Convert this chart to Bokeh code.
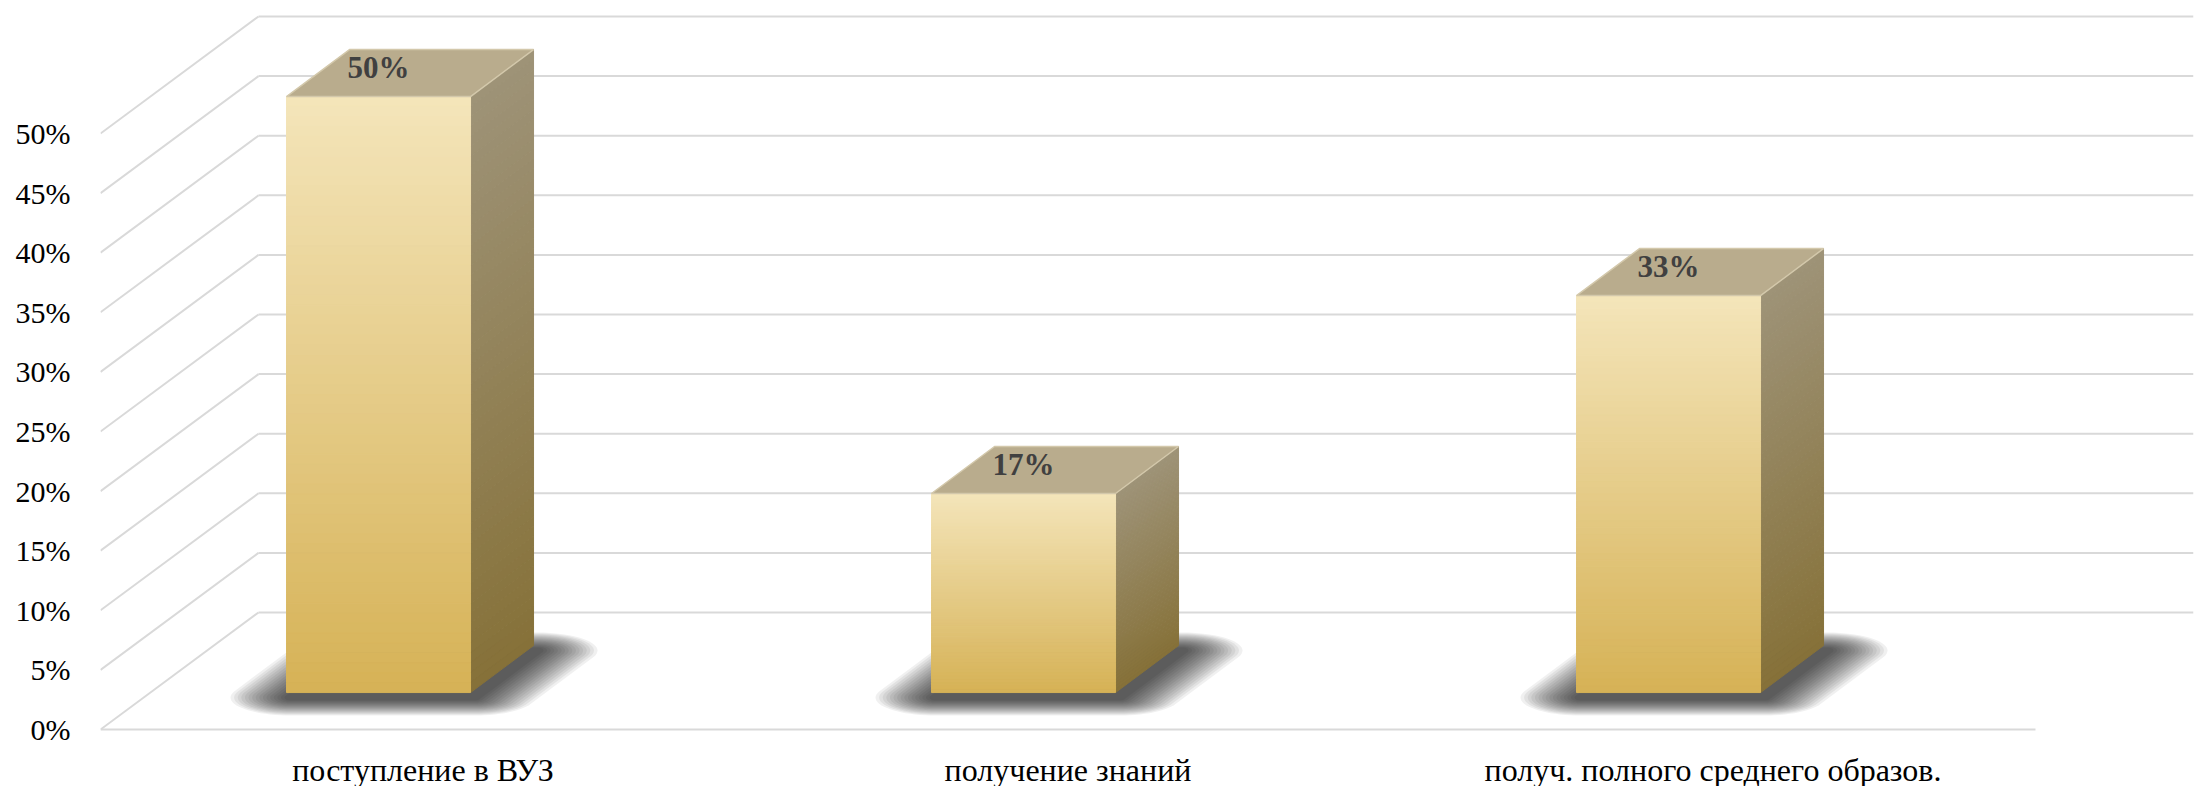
import numpy as np
from bokeh.plotting import figure
from bokeh.models import Range1d, FixedTicker, PrintfTickFormatter
from bokeh.core.properties import value
from bokeh.embed import file_html
from bokeh.resources import INLINE

# ---------------- data ----------------
categories = ["поступление в ВУЗ", "получение знаний", "получ. полного среднего образов."]
values = [50.0, 16.7, 33.3]
y_ticks = [0, 5, 10, 15, 20, 25, 30, 35, 40, 45, 50]

# ---------------- geometry / style ----------------
W, H = 2206, 786
LEFT, RIGHT = 100, 13
PX_X = 645.0          # pixels per category unit
PX_Y = 11.92          # pixels per percent
FLOOR_Y_PX = 729      # floor front line, px from figure top
DEPTH_X = 158 / PX_X  # depth of the 3D box
DEPTH_Y = 117 / PX_Y
BAR_OFF = 0.2884      # front-left of bar within its category
BAR_W = 0.2853
BAR_BASE = 3.10
BAR_DX = 63 / PX_X
BAR_DY = 47 / PX_Y
GRID_COLOR = "#d9d9d9"
FONT = "Liberation Serif"

FRONT_TOP, FRONT_BOT = (244, 229, 186), (214, 178, 86)
SIDE_TOP, SIDE_BOT = (158, 147, 120), (134, 113, 56)
TOP_COLOR = "#b9ac8d"


def mix(c1, c2, t):
    return "#%02x%02x%02x" % tuple(int(round(a + (b - a) * t)) for a, b in zip(c1, c2))


n_cat = len(categories)
x_max = (W - LEFT - RIGHT) / PX_X
y_max = FLOOR_Y_PX / PX_Y
y_min = -(H - FLOOR_Y_PX) / PX_Y

p = figure(width=W, height=H, output_backend="svg", toolbar_location=None,
           title=None, x_axis_location=None, y_axis_location="left",
           x_range=Range1d(0, x_max), y_range=Range1d(y_min, y_max),
           min_border_left=LEFT, min_border_right=RIGHT,
           min_border_top=0, min_border_bottom=0)
p.outline_line_color = None
p.grid.visible = False
p.background_fill_color = "white"
p.border_fill_color = "white"

ax = p.yaxis[0]
ax.ticker = FixedTicker(ticks=y_ticks)
ax.formatter = PrintfTickFormatter(format="%d%%")
ax.axis_line_color = None
ax.major_tick_line_color = None
ax.minor_tick_line_color = None
ax.major_tick_out = 0
ax.major_tick_in = 0
ax.major_label_standoff = 30
ax.major_label_text_font = FONT
ax.major_label_text_font_size = "30px"
ax.major_label_text_color = "black"

# ---------------- 3D walls ----------------
t = np.array(y_ticks, dtype=float)
p.segment(x0=np.full_like(t, DEPTH_X), y0=t + DEPTH_Y,
          x1=np.full_like(t, n_cat + DEPTH_X), y1=t + DEPTH_Y,
          line_color=GRID_COLOR, line_width=2)
p.segment(x0=np.zeros_like(t), y0=t, x1=np.full_like(t, DEPTH_X), y1=t + DEPTH_Y,
          line_color=GRID_COLOR, line_width=2)
p.segment(x0=[0], y0=[0], x1=[n_cat], y1=[0], line_color=GRID_COLOR, line_width=2)

# ---------------- shadows ----------------
def minkowski(verts_px, a, b, n=72):
    out_x, out_y = [], []
    for phi in np.linspace(0, 2 * np.pi, n, endpoint=False):
        ex, ey = a * np.cos(phi), b * np.sin(phi)
        dx, dy = b * np.cos(phi), a * np.sin(phi)
        best = max(verts_px, key=lambda v: v[0] * dx + v[1] * dy)
        out_x.append(best[0] + ex)
        out_y.append(best[1] + ey)
    return out_x, out_y

sh_xs, sh_ys = [], []
for i, v in enumerate(values):
    L = i + BAR_OFF
    R = L + BAR_W
    foot = [(L * PX_X, BAR_BASE * PX_Y), (R * PX_X, BAR_BASE * PX_Y),
            ((R + BAR_DX) * PX_X, (BAR_BASE + BAR_DY) * PX_Y),
            ((L + BAR_DX) * PX_X, (BAR_BASE + BAR_DY) * PX_Y)]
    for k in range(16):
        a = 60 - 3.6 * k
        b = 18 - 1.0 * k
        xs, ys = minkowski(foot, a, b)
        sh_xs.append([x / PX_X + 4 / PX_X for x in xs])
        sh_ys.append([y / PX_Y - 5 / PX_Y for y in ys])
p.patches(sh_xs, sh_ys, fill_color="black", fill_alpha=0.06, line_color=None)

# ---------------- bars ----------------
N = 60
fl, fr, fb, ft, fc = [], [], [], [], []
side_xs, side_ys, side_c = [], [], []
top_xs, top_ys = [], []
for i, v in enumerate(values):
    L = i + BAR_OFF
    R = L + BAR_W
    y0, y1 = BAR_BASE, BAR_BASE + v
    edges = np.linspace(y1, y0, N + 1)
    for j in range(N):
        tt = (j + 0.5) / N
        fl.append(L); fr.append(R)
        ft.append(edges[j]); fb.append(edges[j + 1])
        fc.append(mix(FRONT_TOP, FRONT_BOT, tt))
        ya, yb = edges[j], edges[j + 1]
        side_xs.append([R, R + BAR_DX, R + BAR_DX, R])
        side_ys.append([ya, ya + BAR_DY, yb + BAR_DY, yb])
        side_c.append(mix(SIDE_TOP, SIDE_BOT, tt))
    top_xs.append([L, R, R + BAR_DX, L + BAR_DX])
    top_ys.append([y1, y1, y1 + BAR_DY, y1 + BAR_DY])

p.patches(side_xs, side_ys, fill_color=side_c, line_color=side_c, line_width=1)
p.quad(left=fl, right=fr, top=ft, bottom=fb, fill_color=fc, line_color=fc, line_width=1)
p.patches(top_xs, top_ys, fill_color=TOP_COLOR, line_color="#d3c8ab", line_width=1.5)

# value labels on top faces
lab_x = [i + BAR_OFF + BAR_W / 2 for i in range(n_cat)]
lab_y = [BAR_BASE + v + BAR_DY / 2 + 0.45 for v in values]
p.text(x=lab_x, y=lab_y, text=[f"{v:.0f}%" for v in values],
       text_align="center", text_baseline="middle",
       text_font=value(FONT), text_font_style="bold", text_font_size="31px",
       text_color="#404040")

# category labels
p.text(x=[i + 0.5 for i in range(n_cat)], y=[0] * n_cat, text=categories,
       y_offset=40, text_align="center", text_baseline="middle",
       text_font=value(FONT), text_font_size="32px", text_color="black")

open("out.html", "w").write(file_html(p, INLINE))
